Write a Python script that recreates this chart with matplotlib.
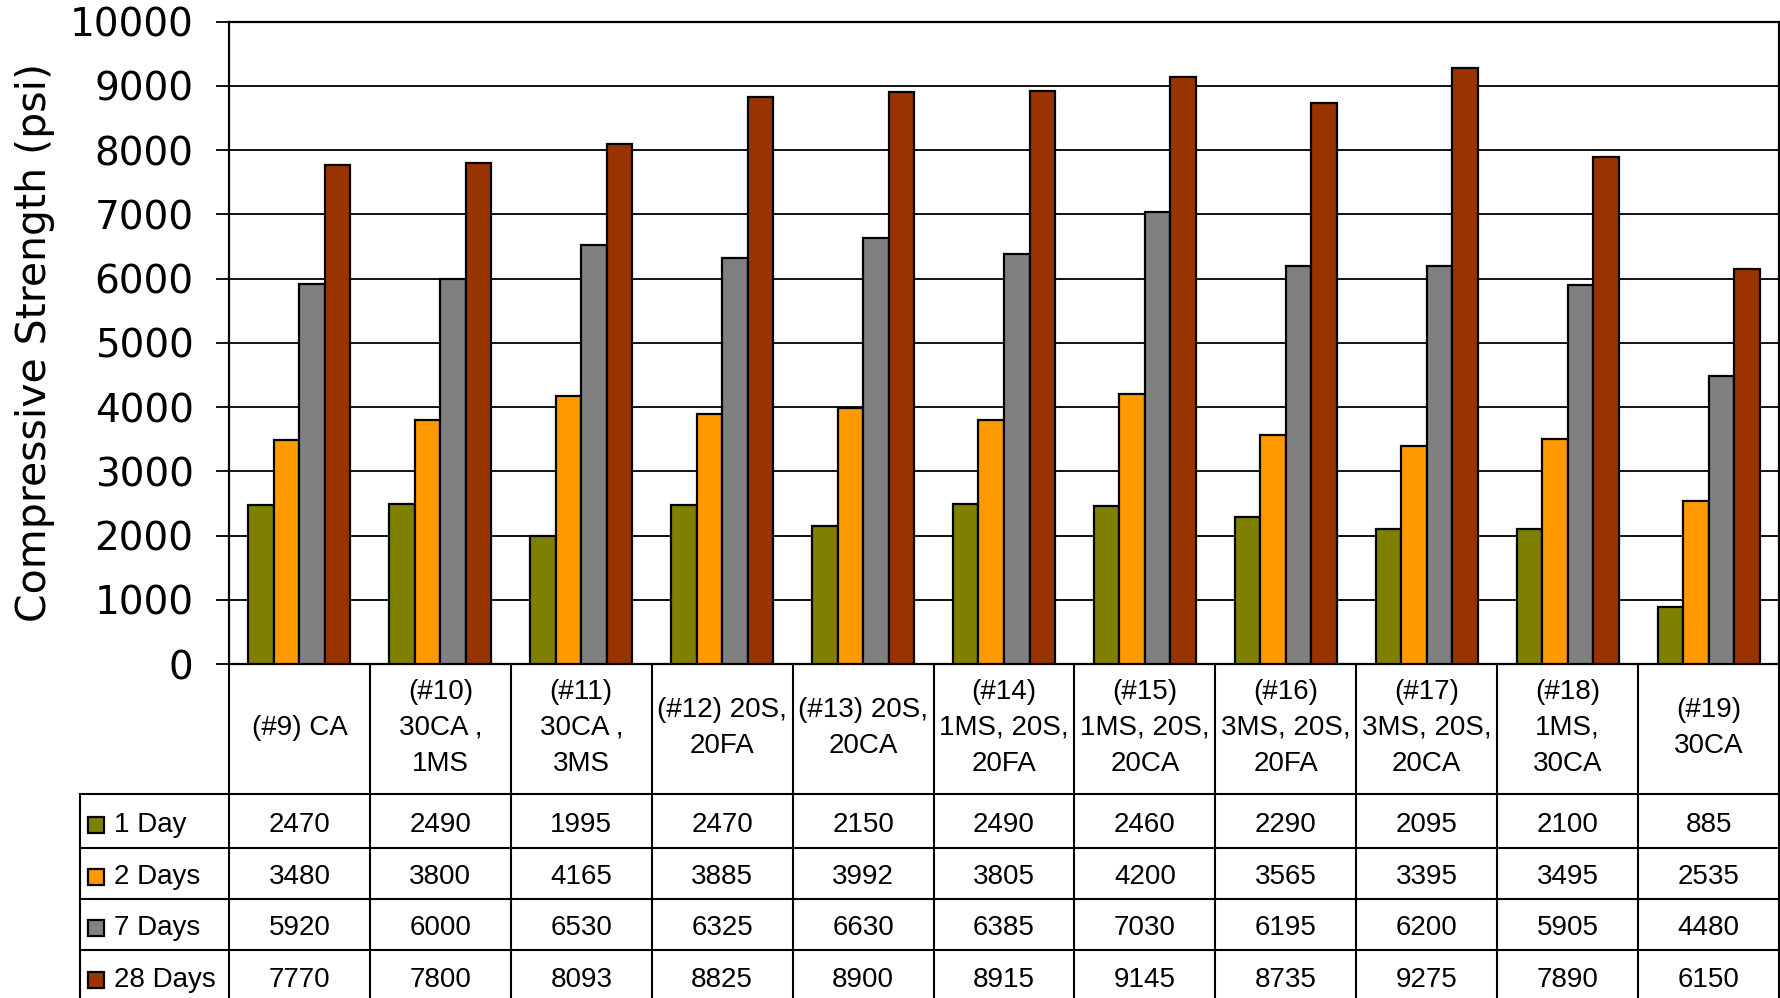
import matplotlib
matplotlib.use("Agg")
import matplotlib.pyplot as plt
import matplotlib.transforms as mtransforms
import numpy as np

# mixes and their compressive strengths (psi) at each age
mixes = [
    "(#9) CA",
    "(#10)\n30CA ,\n1MS",
    "(#11)\n30CA ,\n3MS",
    "(#12) 20S,\n20FA",
    "(#13) 20S,\n20CA",
    "(#14)\n1MS, 20S,\n20FA",
    "(#15)\n1MS, 20S,\n20CA",
    "(#16)\n3MS, 20S,\n20FA",
    "(#17)\n3MS, 20S,\n20CA",
    "(#18)\n1MS,\n30CA",
    "(#19)\n30CA",
]
ages = ["1 Day", "2 Days", "7 Days", "28 Days"]
day1 = [2470, 2490, 1995, 2470, 2150, 2490, 2460, 2290, 2095, 2100, 885]
day2 = [3480, 3800, 4165, 3885, 3992, 3805, 4200, 3565, 3395, 3495, 2535]
day7 = [5920, 6000, 6530, 6325, 6630, 6385, 7030, 6195, 6200, 5905, 4480]
day28 = [7770, 7800, 8093, 8825, 8900, 8915, 9145, 8735, 9275, 7890, 6150]
colors = ["#808000", "#FF9900", "#808080", "#993300"]

series = [day1, day2, day7, day28]

W, H = 1781, 998
fig = plt.figure(figsize=(W / 100, H / 100), dpi=100)
left, right, top, base = 229, 1779, 21.6, 664
ax = fig.add_axes([left / W, (H - base) / H, (right - left) / W, (base - top) / H])

x = np.arange(len(mixes))
bw = 0.181
for k, (vals, c) in enumerate(zip(series, colors)):
    ax.bar(x + (k - 1.5) * bw, vals, bw, color=c, edgecolor="black",
           linewidth=1.6, zorder=3)

ax.set_xlim(-0.5, len(mixes) - 0.5)
ax.set_ylim(0, 10000)
ax.set_yticks(np.arange(0, 10001, 1000))
ax.yaxis.grid(True, color="black", linewidth=1.3, zorder=0)
ax.set_xticks([])
ax.tick_params(axis="y", length=9.5, width=1.3, pad=16, labelsize=28)
for s in ax.spines.values():
    s.set_linewidth(1.6)
ax.set_ylabel("Compressive Strength (psi)", fontsize=29.5)
ax.yaxis.set_label_coords(-0.112, 0.5)

# data table under the bars: x follows the categories, y in axes fraction
trans = mtransforms.blended_transform_factory(ax.transData, ax.transAxes)
ax_h = base - top
cat_px = (right - left) / len(mixes)


def fy(py):
    return (base - py) / ax_h


def fx(px):
    return -0.5 + (px - left) / cat_px


row_edges = [fy(p) for p in (664, 794, 848, 899, 950, 1003)]
tbl_left = fx(80.5)
xr = len(mixes) - 0.5
lkw = dict(color="black", linewidth=1.5, transform=trans, clip_on=False,
           solid_capstyle="projecting")

# horizontal rules
for yv in row_edges[1:]:
    ax.plot([tbl_left, xr], [yv, yv], **lkw)
# vertical rules
for i in range(len(mixes) + 1):
    ax.plot([i - 0.5, i - 0.5], [row_edges[0], row_edges[-1]], **lkw)
ax.plot([tbl_left, tbl_left], [row_edges[1], row_edges[-1]], **lkw)

tfont = dict(family="Liberation Sans", fontsize=20)
hy = (row_edges[0] + row_edges[1]) / 2 + 0.002
for i, lab in enumerate(mixes):
    ax.text(i, hy, lab, ha="center", va="center", transform=trans,
            linespacing=1.5, **tfont)

shift = 0.006
for r, (name, vals, c) in enumerate(zip(ages, series, colors)):
    yc = (row_edges[r + 1] + row_edges[r + 2]) / 2 - shift
    ax.plot([fx(96)], [yc], marker="s", markersize=11.5,
            markerfacecolor=c, markeredgecolor="black", markeredgewidth=1.6,
            transform=trans, clip_on=False)
    ax.text(fx(114), yc, name, ha="left", va="center", transform=trans,
            **tfont)
    for i, v in enumerate(vals):
        ax.text(i, yc, str(v), ha="center", va="center", transform=trans,
                **tfont)

fig.savefig("out.png", dpi=100)
